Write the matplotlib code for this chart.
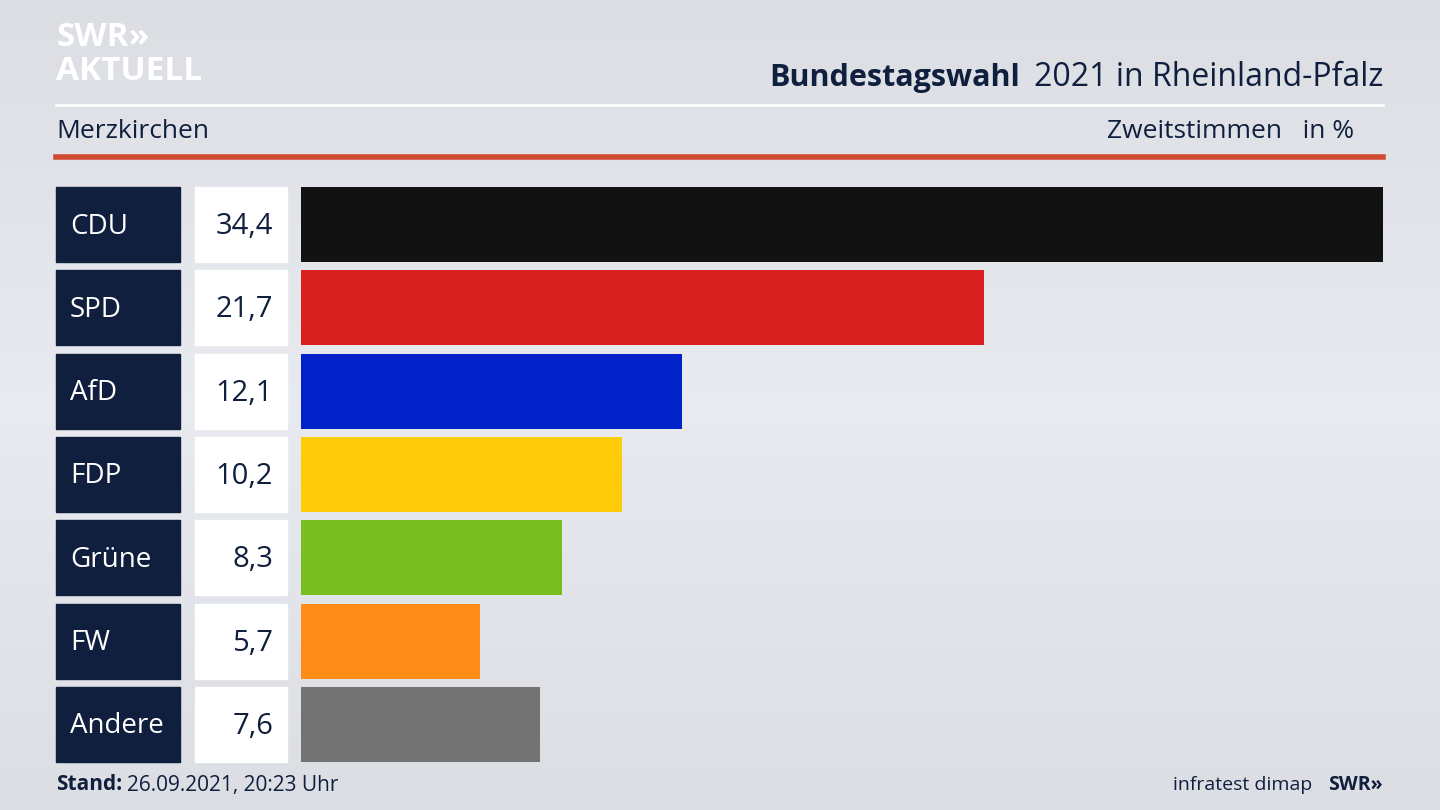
import matplotlib
matplotlib.use("Agg")
import matplotlib.pyplot as plt
import numpy as np
from matplotlib.patches import Rectangle

parties = ["CDU", "SPD", "AfD", "FDP", "Grüne", "FW", "Andere"]
values = [34.4, 21.7, 12.1, 10.2, 8.3, 5.7, 7.6]
colors = ["#121212", "#d82020", "#0022c8", "#ffcc0a", "#78be1e", "#ff8c19", "#737373"]
value_labels = ["34,4", "21,7", "12,1", "10,2", "8,3", "5,7", "7,6"]

plt.rcParams["font.family"] = "Open Sans"
W, H = 1440, 810
fig = plt.figure(figsize=(14.4, 8.1), dpi=100)

bg = fig.add_axes([0, 0, 1, 1])
bg.set_xlim(0, W); bg.set_ylim(H, 0); bg.axis("off")
grad = np.linspace(0, 1, 256)
g = 1 - np.abs(grad - 0.5) * 2
img = np.zeros((256, 1, 3))
for i, c in enumerate([0.86, 0.87, 0.89]):
    img[:, 0, i] = c + 0.05 * g
bg.imshow(img, extent=[0, W, H, 0], aspect="auto", zorder=0)

navy = "#0f1f3d"
bg.text(56, 37, "SWR»", fontsize=24, fontweight="bold", color="white", va="center")
bg.text(56, 71, "AKTUELL", fontsize=24, fontweight="bold", color="white", va="center")
bg.text(1383, 78, "2021 in Rheinland-Pfalz", fontsize=23, color=navy, ha="right", va="center")
bg.text(1020, 78, "Bundestagswahl", fontsize=22, color=navy, fontweight="bold", ha="right", va="center")
bg.plot([56, 1383], [105, 105], color="white", lw=2)
bg.text(56, 132, "Merzkirchen", fontsize=19, color=navy, va="center")
bg.text(1354, 132, "Zweitstimmen   in %", fontsize=19, color=navy, ha="right", va="center")
bg.plot([56, 1383], [157, 157], color="#d04a32", lw=4)
bg.text(56, 785, "Stand:", fontsize=15, fontweight="bold", color=navy, va="center")
bg.text(127, 785, "26.09.2021, 20:23 Uhr", fontsize=15, color=navy, va="center")
bg.text(1312, 785, "infratest dimap", fontsize=14, color=navy, ha="right", va="center")
bg.text(1383, 785, "SWR»", fontsize=14, fontweight="bold", color=navy, ha="right", va="center")

top, pitch, bh = 187, 83.33, 75
for i, (p, v) in enumerate(zip(parties, value_labels)):
    y = top + i * pitch
    bg.add_patch(Rectangle((56, y), 124, bh, color=navy, zorder=2))
    bg.add_patch(Rectangle((195, y), 92, bh, color="white", zorder=2))
    bg.text(70, y + bh / 2 + 2, p, fontsize=20, color="white", va="center", zorder=3)
    bg.text(273, y + bh / 2 + 2, v, fontsize=21, color=navy, va="center", ha="right", zorder=3)

n = len(parties)
ax = fig.add_axes([301 / W, (H - 762) / H, (1383 - 301) / W, (762 - 187) / H])
ax.set_xlim(0, max(values))
ax.set_ylim(n - 1 + 0.45, -0.45)
ax.barh(range(n), values, height=bh / pitch, color=colors)
ax.axis("off")

fig.savefig("out.png", dpi=100)
